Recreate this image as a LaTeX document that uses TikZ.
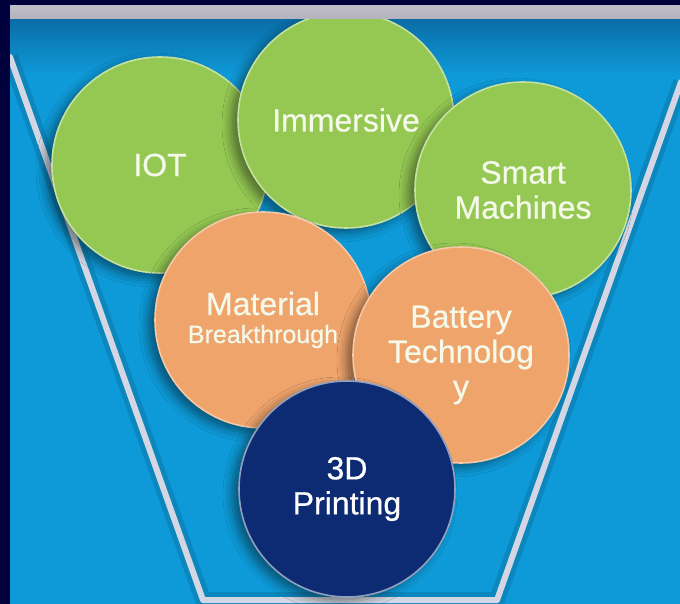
\documentclass[tikz,border=0pt]{standalone}
\usepackage{fontspec}
\setmainfont{Liberation Sans}
\newfontfamily\bubblefont[FakeBold=0.6]{Liberation Sans}
\usetikzlibrary{shadows.blur}
\definecolor{navybg}{HTML}{00003C}
\definecolor{funnelblue}{HTML}{0E9AD8}
\definecolor{topblue}{HTML}{0A6CA6}
\definecolor{bandgray}{HTML}{B4B2BC}
\definecolor{rimgray}{HTML}{D4D7E3}
\definecolor{leafgreen}{HTML}{94C853}
\definecolor{peach}{HTML}{EFA46C}
\definecolor{deepnavy}{HTML}{0C2B72}
\definecolor{paletext}{HTML}{F4F9EA}
\begin{document}
\begin{tikzpicture}[x=1pt,y=-1pt,
  bubble/.style={circle, minimum size=216pt, inner sep=0pt, align=center,
    font=\bubblefont\fontsize{32}{35}\selectfont, text=paletext, line width=1.6pt,
    blur shadow={shadow xshift=-7pt, shadow yshift=-5pt, shadow blur radius=9pt, shadow opacity=45}},
  greenbubble/.style={bubble, fill=leafgreen, draw=leafgreen!55!white},
  peachbubble/.style={bubble, fill=peach, draw=peach!60!white},
  navybubble/.style={bubble, fill=deepnavy, draw=deepnavy!45!white, text=white},
  funnelline/.style={draw=rimgray, line width=6pt, line join=round, line cap=round},
  funnelshade/.style={draw=black, opacity=0.12, line width=16pt, line join=round}]
\useasboundingbox (0,0) rectangle (680,604);
% background
\fill[navybg] (0,0) rectangle (680,604);
\fill[funnelblue] (10,5) rectangle (680,604);
\shade[top color=topblue, bottom color=funnelblue] (10,18) rectangle (680,75);
% funnel outline
\coordinate (fl) at (10,57);
\coordinate (bl) at (203,600);
\coordinate (br) at (497,600);
\coordinate (fr) at (681,82);
\begin{scope}
\clip (10,5) rectangle (680,604);
\draw[funnelshade, shift={(-7,4)}] (fl) -- (bl) -- (br) -- (fr);
\draw[funnelline] (fl) -- (bl) -- (br) -- (fr);
\end{scope}
% circles
\node[greenbubble] (iot) at (160,165) {IOT};
\node[greenbubble] (imm) at (346,120) {Immersive};
\node[greenbubble] (smart) at (523,190) {Smart\\Machines};
\node[peachbubble] (mat) at (263,320) {Material\\[-7pt]{\fontsize{25}{28}\selectfont Breakthrough}};
\node[peachbubble] (bat) at (461,355) {Battery\\Technolog\\y};
\node[navybubble] (print) at (347,489) {3D\\Printing};
% top band
\fill[navybg] (10,0) rectangle (680,5);
\shade[top color=bandgray!85!white, bottom color=bandgray] (10,6) rectangle (680,19);
\end{tikzpicture}
\end{document}
